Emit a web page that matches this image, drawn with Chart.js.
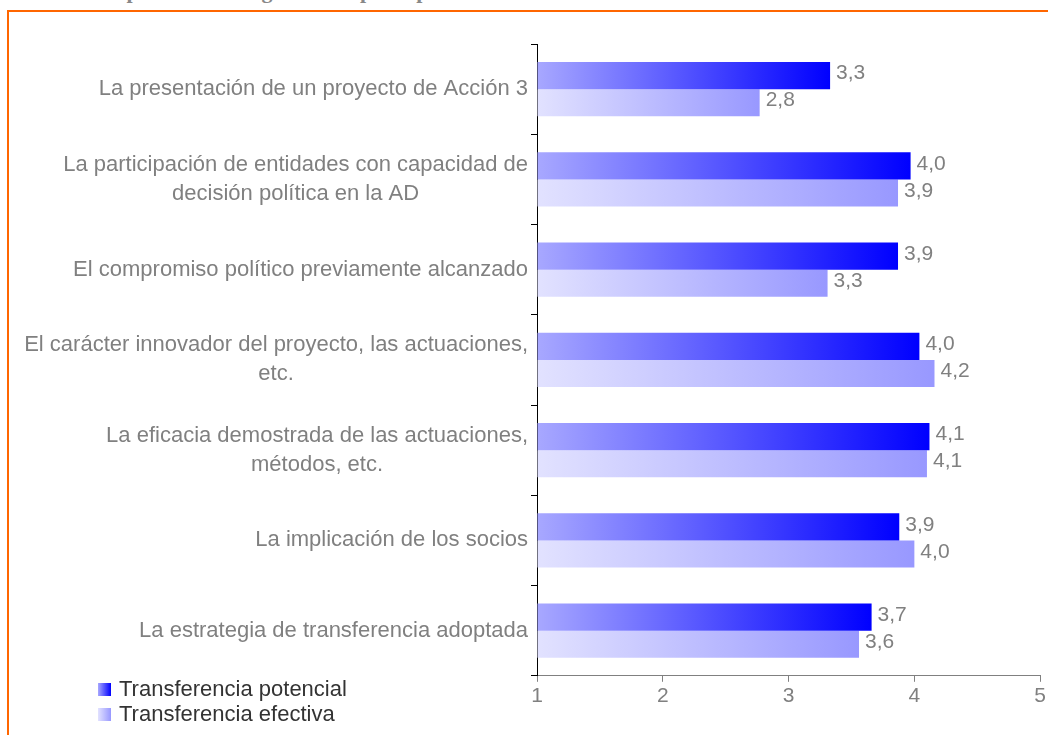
<!DOCTYPE html>
<html lang="es">
<head>
    <meta charset="UTF-8">
    <title>Transferencia potencial y efectiva</title>
    <style>
        body {
            margin: 0;
            padding: 0;
            background: #fff;
            overflow: hidden;
        }
        .page {
            position: relative;
            width: 1048px;
            height: 735px;
        }
        .title {
            position: absolute;
            left: 0;
            top: -20px;
            white-space: nowrap;
            font-family: 'Liberation Serif', serif;
            font-weight: bold;
            font-size: 22px;
            line-height: 22px;
            color: #888;
        }
        .frame {
            position: absolute;
            left: 7px;
            top: 10px;
            width: 1060px;
            height: 760px;
            border: 2px solid #ff6600;
        }
        .chart {
            position: absolute;
            left: 0;
            top: 0;
            width: 1048px;
            height: 735px;
        }
    </style>
</head>
<body>
    <div class="page">
        <div class="title">Gráfico 8. Importancia otorgada a los principales factores en relación con la transferencia de las actuaciones</div>
        <div class="frame"></div>
        <div class="chart">
            <canvas id="factorsChart"></canvas>
        </div>
    </div>
    <script src="https://cdn.jsdelivr.net/npm/chart.js"></script>
    <script>
        const categories = [
            'La presentación de un proyecto de Acción 3',
            ['La participación de entidades con capacidad de', 'decisión política en la AD'],
            'El compromiso político previamente alcanzado',
            ['El carácter innovador del proyecto, las actuaciones,', 'etc.'],
            ['La eficacia demostrada de las actuaciones,', 'métodos, etc.'],
            'La implicación de los socios',
            'La estrategia de transferencia adoptada'
        ];
        const potencial = [3.33, 3.97, 3.87, 4.04, 4.12, 3.88, 3.66];
        const efectiva = [2.77, 3.87, 3.31, 4.16, 4.10, 4.00, 3.56];
        const seriesNames = ['Transferencia potencial', 'Transferencia efectiva'];
        const xTicks = [1, 2, 3, 4, 5];

        const FONT = "'Liberation Sans', Arial, sans-serif";
        const colorsPot = ['#a8a8ff', '#0000ff'];
        const colorsEf = ['#e2e2ff', '#9898ff'];

        // gradient runs from the axis to the end of each bar
        function barGradient(context, stops) {
            const chart = context.chart;
            if (!chart.chartArea || context.type !== 'data') return stops[1];
            const x = chart.scales.x;
            const x0 = x.getPixelForValue(1);
            const x1 = x.getPixelForValue(context.raw);
            const g = chart.ctx.createLinearGradient(x0, 0, Math.max(x1, x0 + 1), 0);
            g.addColorStop(0, stops[0]);
            g.addColorStop(1, stops[1]);
            return g;
        }

        const drawExtras = {
            id: 'drawExtras',
            afterDatasetsDraw(chart) {
                const ctx = chart.ctx;
                const y = chart.scales.y;
                ctx.save();

                // value labels
                ctx.font = '21px ' + FONT;
                ctx.fillStyle = '#808080';
                ctx.textAlign = 'left';
                ctx.textBaseline = 'middle';
                chart.data.datasets.forEach((ds, di) => {
                    chart.getDatasetMeta(di).data.forEach((bar, i) => {
                        const txt = ds.data[i].toFixed(1).replace('.', ',');
                        ctx.fillText(txt, bar.x + 6, bar.y - 2);
                    });
                });

                // category labels: block right-aligned, lines centred
                ctx.font = '22px ' + FONT;
                ctx.textAlign = 'center';
                const right = 528;
                const lineH = 29;
                categories.forEach((lab, i) => {
                    const lines = Array.isArray(lab) ? lab : [lab];
                    const w = Math.max(...lines.map(l => ctx.measureText(l).width));
                    const cx = right - w / 2;
                    const cy = y.getPixelForValue(i);
                    lines.forEach((l, k) => {
                        ctx.fillText(l, cx, cy + (k - (lines.length - 1) / 2) * lineH);
                    });
                });

                // legend
                const stops = [colorsPot, colorsEf];
                ctx.textAlign = 'left';
                ctx.font = '22px ' + FONT;
                seriesNames.forEach((name, i) => {
                    const top = 683 + i * 25;
                    const g = ctx.createLinearGradient(98, 0, 111, 0);
                    g.addColorStop(0, stops[i][0]);
                    g.addColorStop(1, stops[i][1]);
                    ctx.fillStyle = g;
                    ctx.fillRect(98, top, 13, 13);
                    ctx.fillStyle = '#333';
                    ctx.fillText(name, 119, top + 7);
                });
                ctx.restore();
            }
        };

        new Chart(document.getElementById('factorsChart'), {
            type: 'bar',
            data: {
                labels: categories,
                datasets: [{
                    label: seriesNames[0],
                    data: potencial,
                    base: 1,
                    backgroundColor: c => barGradient(c, colorsPot),
                    categoryPercentage: 0.6,
                    barPercentage: 1
                }, {
                    label: seriesNames[1],
                    data: efectiva,
                    base: 1,
                    backgroundColor: c => barGradient(c, colorsEf),
                    categoryPercentage: 0.6,
                    barPercentage: 1
                }]
            },
            options: {
                indexAxis: 'y',
                responsive: true,
                maintainAspectRatio: false,
                animation: false,
                layout: {
                    padding: { left: 531, right: 0, top: 44, bottom: 24 }
                },
                plugins: {
                    legend: { display: false },
                    tooltip: { enabled: false }
                },
                scales: {
                    x: {
                        min: 1,
                        max: 5,
                        afterBuildTicks: axis => { axis.ticks = xTicks.map(v => ({ value: v })); },
                        border: { color: '#808080', width: 1 },
                        grid: {
                            drawOnChartArea: false,
                            drawTicks: true,
                            tickLength: 6,
                            color: '#808080'
                        },
                        ticks: {
                            color: '#808080',
                            font: { family: FONT, size: 21 },
                            padding: 2
                        }
                    },
                    y: {
                        border: { color: '#000', width: 1 },
                        grid: {
                            drawOnChartArea: false,
                            drawTicks: true,
                            tickLength: 6,
                            color: '#000'
                        },
                        ticks: { display: false }
                    }
                }
            },
            plugins: [drawExtras]
        });
    </script>
</body>
</html>
